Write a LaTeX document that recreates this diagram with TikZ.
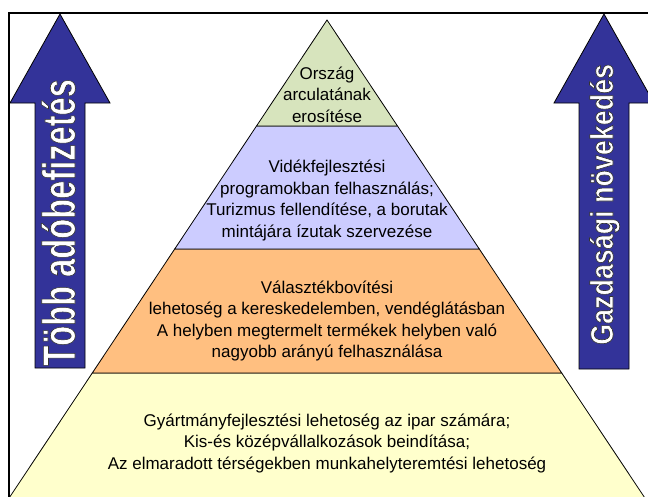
\documentclass[tikz,border=0pt]{standalone}
\usepackage{fontspec}
\setmainfont{Liberation Sans}
\definecolor{arrowblue}{HTML}{333399}
\definecolor{lvlA}{HTML}{D7E4BD}
\definecolor{lvlB}{HTML}{CCCCFF}
\definecolor{lvlC}{HTML}{FFBF80}
\definecolor{lvlD}{HTML}{FFFFCC}
\newcommand{\outlinedtext}[1]{\special{pdf:code 0.2 0.2 0.2 RG 2 Tr 0.7 w}#1\special{pdf:code 0 Tr}}
\begin{document}
\begin{tikzpicture}[x=1pt,y=-1pt,
  layer/.style={draw=black, line width=0.8pt},
  lvltext/.style={align=center, font=\fontsize{17}{21.5}\selectfont, inner sep=0pt},
  bigarrow/.style={draw=black, line width=0.8pt, fill=arrowblue},
  arrowtext/.style={rotate=90, anchor=base west, inner sep=0pt, text=white, font=\bfseries}]
\useasboundingbox (0,0) rectangle (648,496);
\clip (0,0) rectangle (648,496);
\fill[white] (0,0) rectangle (648,496);
% pyramid layers
\filldraw[layer, fill=lvlD] (92.3,373) -- (561.7,373) -- (652.9,510) -- (1.1,510) -- cycle;
\filldraw[layer, fill=lvlC] (174.7,249) -- (479.3,249) -- (561.7,373) -- (92.3,373) -- cycle;
\filldraw[layer, fill=lvlB] (256.5,126) -- (397.5,126) -- (479.3,249) -- (174.7,249) -- cycle;
\filldraw[layer, fill=lvlA] (327,20) -- (397.5,126) -- (256.5,126) -- cycle;
% texts
\node[lvltext] (t1) at (327,94.5) {Ország\\arculatának\\erosítése};
\node[lvltext] (t2) at (327,200.5) {Vidékfejlesztési\\programokban felhasználás;\\Turizmus fellendítése, a borutak\\mintájára ízutak szervezése};
\node[lvltext] (t3) at (327,321) {Választékbovítési\\lehetoség a kereskedelemben, vendéglátásban\\A helyben megtermelt termékek helyben való\\nagyobb arányú felhasználása};
\node[lvltext] (t4) at (327,443) {Gyártmányfejlesztési lehetoség az ipar számára;\\Kis-és középvállalkozások beindítása;\\Az elmaradott térségekben munkahelyteremtési lehetoség};
% arrows
\filldraw[bigarrow] (60,14) -- (110,103) -- (85,103) -- (85,368) -- (35,368) -- (35,103) -- (10,103) -- cycle;
\filldraw[bigarrow] (604,14) -- (654,103) -- (629,103) -- (629,369) -- (579,369) -- (579,103) -- (554,103) -- cycle;
\node[arrowtext] (ta) at (75,366) {\scalebox{0.71}[1]{\fontsize{46}{46}\selectfont\outlinedtext{Több adóbefizetés}}};
\node[arrowtext] (tb) at (613,345) {\scalebox{0.84}[1]{\fontsize{32}{32}\selectfont\outlinedtext{Gazdasági növekedés}}};
% frame
\draw[line width=2pt] (9,13) rectangle (700,560);
\end{tikzpicture}
\end{document}
